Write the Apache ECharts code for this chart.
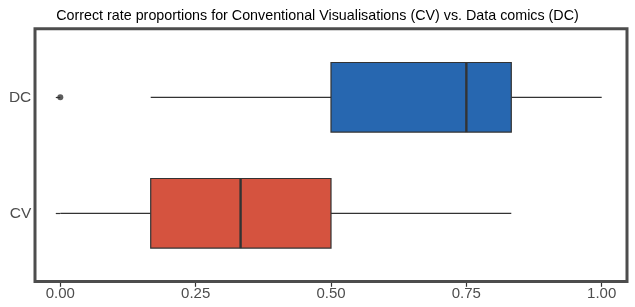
<!DOCTYPE html>
<html>
<head>
<meta charset="utf-8">
<script src="https://cdn.jsdelivr.net/npm/echarts@6/dist/echarts.min.js"></script>
<style>
  html, body { margin: 0; padding: 0; background: #fff; }
  #chart { width: 635px; height: 307px; }
</style>
</head>
<body>
<div id="chart"></div>
<script>
const categories = ['CV', 'DC'];
const boxColors = ['#D5533F', '#2767B0'];
const whiskerLow = [0, 0.167];
const q1 = [0.167, 0.5];
const median = [0.333, 0.75];
const q3 = [0.5, 0.833];
const whiskerHigh = [0.833, 1.0];
const outliers = [[0, 'DC']];

const FONT = 'Liberation Sans, Arial, sans-serif';
const boxRows = categories.map((c, i) => [i, whiskerLow[i], q1[i], median[i], q3[i], whiskerHigh[i]]);

const chart = echarts.init(document.getElementById('chart'));

function renderBox(params, api) {
  const cat = api.value(0);
  const half = api.size([0, 1])[1] * 0.3;
  const pLow = api.coord([api.value(1), cat]);
  const pQ1 = api.coord([api.value(2), cat]);
  const pMed = api.coord([api.value(3), cat]);
  const pQ3 = api.coord([api.value(4), cat]);
  const pHigh = api.coord([api.value(5), cat]);
  const y = pQ1[1];
  const line = { stroke: '#333', lineWidth: 1.2 };
  return {
    type: 'group',
    children: [
      { type: 'line', shape: { x1: pLow[0], y1: y, x2: pQ1[0], y2: y }, style: line },
      { type: 'line', shape: { x1: pQ3[0], y1: y, x2: pHigh[0], y2: y }, style: line },
      {
        type: 'rect',
        shape: { x: pQ1[0], y: y - half, width: pQ3[0] - pQ1[0], height: half * 2 },
        style: { fill: boxColors[cat], stroke: '#333', lineWidth: 1.2 }
      },
      { type: 'line', shape: { x1: pMed[0], y1: y - half, x2: pMed[0], y2: y + half }, style: { stroke: '#333', lineWidth: 2.4 } }
    ]
  };
}

chart.setOption({
  animation: false,
  title: {
    text: 'Correct rate proportions for Conventional Visualisations (CV) vs. Data comics (DC)',
    left: 'center',
    top: 4,
    textStyle: { fontFamily: FONT, fontSize: 14.3, fontWeight: 'normal', color: '#000' }
  },
  grid: { left: 60.3, right: 33.3, top: 39.3, height: 232 },
  graphic: [{
    type: 'rect',
    shape: { x: 35, y: 28.8, width: 592, height: 252.7 },
    style: { fill: null, stroke: '#4d4d4d', lineWidth: 3 },
    z: 10
  }],
  xAxis: {
    type: 'value',
    min: 0,
    max: 1,
    interval: 0.25,
    offset: 11.5,
    axisLine: { show: false },
    axisTick: { show: true, length: 4, lineStyle: { color: '#333', width: 1.2 } },
    splitLine: { show: false },
    axisLabel: {
      margin: 4,
      fontFamily: FONT, fontSize: 15, color: '#4d4d4d',
      formatter: v => v.toFixed(2)
    }
  },
  yAxis: {
    type: 'category',
    data: categories,
    offset: 27,
    axisLine: { show: false },
    axisTick: { show: true, length: 4.5, alignWithLabel: true, lineStyle: { color: '#333', width: 1.2 } },
    axisLabel: { margin: 2, fontFamily: FONT, fontSize: 15.5, color: '#4d4d4d' }
  },
  series: [
    {
      type: 'custom',
      renderItem: renderBox,
      encode: { y: 0, x: [1, 2, 3, 4, 5] },
      data: boxRows
    },
    {
      type: 'scatter',
      symbol: 'circle',
      symbolSize: 6,
      itemStyle: { color: '#333', borderWidth: 0 },
      data: outliers
    }
  ]
});
</script>
</body>
</html>
